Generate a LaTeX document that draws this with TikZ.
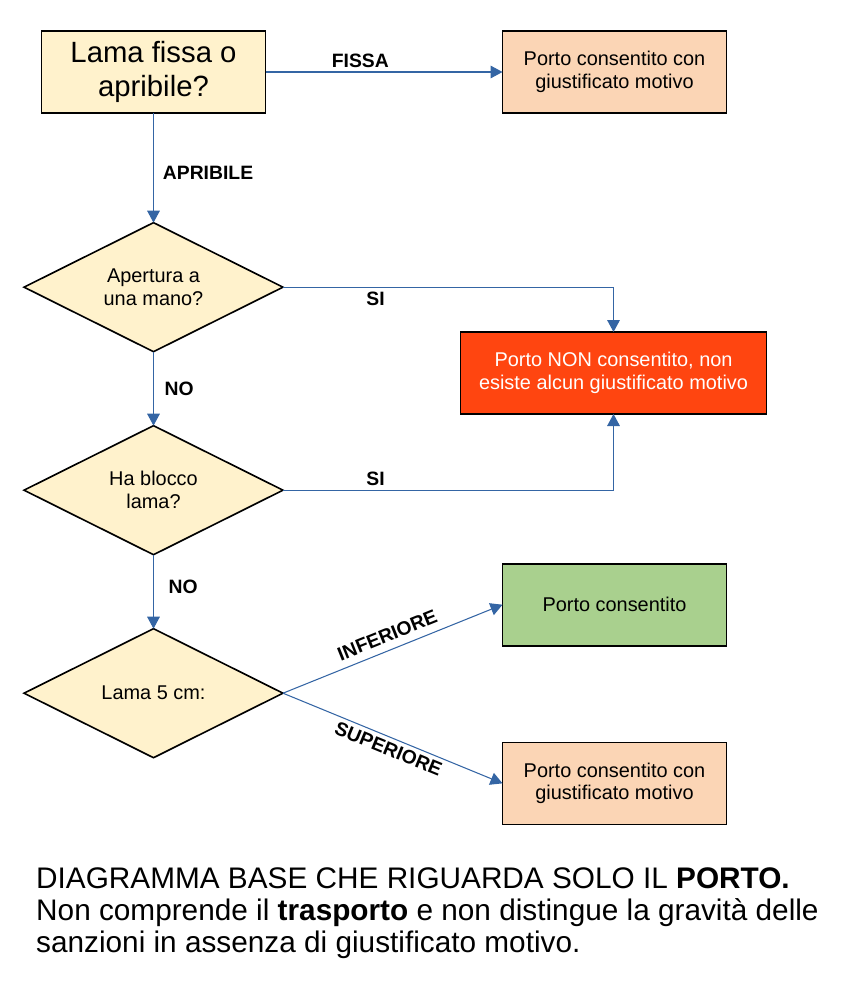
\documentclass[tikz,border=0pt]{standalone}
\usepackage{fontspec}
\setmainfont{Liberation Sans}
\usetikzlibrary{positioning,shapes.geometric,arrows.meta}

\definecolor{qyellow}{HTML}{FFF2CC}
\definecolor{qpeach}{HTML}{FBD5B5}
\definecolor{qgreen}{HTML}{A9D08E}
\definecolor{qred}{HTML}{FF4510}
\definecolor{linkblue}{HTML}{3465A4}

\begin{document}
\begin{tikzpicture}[x=0.03cm,y=-0.03cm,>={Triangle[length=0.36cm,width=0.38cm]},
  box/.style={draw,line width=1.4pt,outer sep=0pt,minimum width=6.72cm,minimum height=2.46cm,
    align=center,font=\fontsize{17}{19.5}\selectfont},
  decision/.style={diamond,aspect=2,draw,line width=1.4pt,outer sep=0pt,fill=qyellow,
    minimum width=7.77cm,minimum height=3.87cm,inner sep=0pt,align=center,
    font=\fontsize{17}{19.5}\selectfont},
  link/.style={->,draw=linkblue,line width=0.9pt},
  lbl/.style={font=\bfseries\fontsize{16.5}{19}\selectfont,text=black}]
  \useasboundingbox (0,0) rectangle (847,987);

  \node[box,fill=qyellow,font=\fontsize{25}{28.4}\selectfont] (q1) at (153.5,72) {Lama fissa o\\apribile?};
  \node[box,fill=qpeach,right=7.11cm of q1] (fix) {Porto consentito con\\giustificato motivo};
  \node[decision,below=3.29cm of q1] (q2) {Apertura a\\una mano?};
  \node[decision,below=2.22cm of q2] (q3) {Ha blocco\\lama?};
  \node[decision,below=2.22cm of q3] (q4) {Lama 5 cm:};
  \node[box,fill=qred,text=white,minimum width=9.18cm,below=6.57cm of fix,xshift=-0.03cm] (ban) {Porto NON consentito, non\\esiste alcun giustificato motivo};
  \node[box,fill=qgreen,below=4.49cm of ban,xshift=0.03cm] (ok) {Porto consentito};
  \node[box,fill=qpeach,below=2.9cm of ok] (why) {Porto consentito con\\giustificato motivo};

  \draw[link] (q1) -- node[lbl,above,pos=0.4] {FISSA} (fix);
  \draw[link] (q1) -- node[lbl,right,pos=0.55,xshift=0.15cm] {APRIBILE} (q2);
  \draw[link] (q2) -- node[lbl,right,xshift=0.2cm] {NO} (q3);
  \draw[link] (q3) -- node[lbl,right,pos=0.43,xshift=0.32cm] {NO} (q4);
  \draw[link] (q2.east) -| node[lbl,below,pos=0.14] {SI} (ban.north);
  \draw[link] (q3.east) -| node[lbl,above,pos=0.14] {SI} (ban.south);
  \draw[link] (q4.east) -- node[lbl,sloped,above=3pt,pos=0.5] {INFERIORE} (ok.west);
  \draw[link] (q4.east) -- node[lbl,sloped,below,pos=0.5] {SUPERIORE} (why.west);

  \node[anchor=north west,inner sep=0pt,align=left,font=\fontsize{25.4}{27.7}\selectfont] (note) at (36,867)
    {DIAGRAMMA BASE CHE RIGUARDA SOLO IL \textbf{PORTO.}\\
     Non comprende il \textbf{trasporto} e non distingue la gravità delle\\
     sanzioni in assenza di giustificato motivo.};
\end{tikzpicture}
\end{document}
